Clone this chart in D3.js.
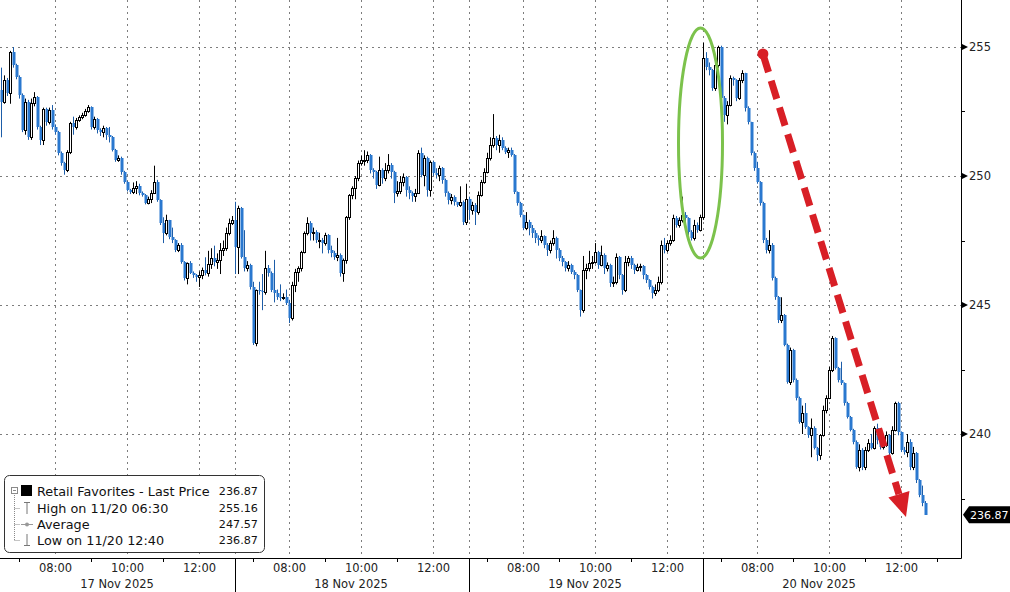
<!DOCTYPE html>
<html>
<head>
<meta charset="utf-8">
<script src="https://cdn.jsdelivr.net/npm/d3@7"></script>
<style>
  html, body { margin: 0; padding: 0; background: #fff; }
  svg { display: block; font-family: "DejaVu Sans", sans-serif; }
</style>
</head>
<body>
<svg id="chart"></svg>
<script>
// ---- data: 5-minute candles, 06:30-13:00 each day ----
const days = ["17 Nov 2025", "18 Nov 2025", "19 Nov 2025", "20 Nov 2025"];
const openFirst = 253.33;

const close17 = [252.87,253.72,253.22,254.81,254.30,253.84,253.14,251.78,252.87,251.51,
  252.83,253.06,251.90,251.40,252.60,252.09,252.56,251.90,251.71,250.89,
  250.50,250.23,250.93,252.05,251.90,252.17,252.29,252.36,252.52,252.67,
  251.90,252.21,251.78,251.71,251.86,251.59,251.51,251.01,250.62,250.70,
  250.16,249.77,249.46,249.38,249.53,249.61,249.34,249.26,248.95,249.11,
  249.34,249.77,249.07,248.18,247.79,248.29,247.64,247.52,247.13,247.33,
  246.67,246.05,246.63,246.24,246.16,246.09,246.16,246.36,246.24,246.59,
  246.82,246.67,246.74,247.13,247.21,247.79,248.18,248.29];
const high17 = [254.2,253.9,253.8,254.85,255.0,254.35,253.9,253.2,253.0,252.95,
  253.0,253.25,253.1,251.95,252.65,252.65,252.65,252.75,252.0,251.75,
  250.95,250.55,251.0,252.1,252.3,252.25,252.35,252.45,252.6,252.75,
  252.7,252.3,252.25,251.85,251.95,251.9,251.9,251.55,251.05,250.8,
  250.75,250.2,249.8,249.5,249.75,249.8,249.7,249.4,249.3,249.2,
  249.45,250.4,249.85,249.1,248.4,248.5,248.3,248.0,247.55,247.4,
  247.4,246.7,246.65,246.7,246.3,246.2,246.3,246.45,246.85,247.1,
  247.2,247.3,247.0,247.4,247.5,248.0,248.35,248.45];
const low17 = [251.5,252.8,253.1,252.8,254.2,253.75,253.0,251.7,251.6,251.4,
  251.4,252.7,251.8,251.2,251.2,251.95,252.0,251.8,251.6,250.8,
  250.4,250.05,250.15,250.85,251.6,251.8,252.1,252.2,252.3,252.45,
  251.8,251.8,251.65,251.55,251.5,251.4,251.3,250.95,250.55,250.55,
  250.05,249.7,249.4,249.3,249.3,249.3,249.25,249.2,248.9,248.9,
  248.95,249.3,249.0,248.1,247.4,247.7,247.55,247.4,247.05,247.05,
  246.6,245.95,245.8,246.2,246.05,245.9,245.7,246.0,246.15,246.1,
  246.4,246.5,246.4,246.2,246.9,247.1,247.7,248.1];

const close18 = [247.25,248.76,246.86,246.43,246.55,245.70,243.53,245.58,245.54,245.50,
  246.43,246.24,245.58,245.47,245.31,245.27,245.31,245.08,244.50,245.78,
  246.28,246.43,247.05,247.79,248.18,247.79,247.83,247.52,247.52,247.40,
  247.71,247.13,247.02,246.86,246.94,246.24,246.74,248.41,249.26,249.53,
  249.92,250.50,250.62,250.62,250.81,250.23,250.16,249.65,250.23,249.92,
  250.23,250.43,250.16,249.34,249.42,249.77,249.96,249.46,249.34,249.22,
  249.34,250.89,250.04,250.70,249.46,250.54,250.12,250.04,250.31,249.84,
  249.34,249.07,249.19,248.99,248.88,248.99,248.22,249.11];
const high18 = [249.0,248.85,248.8,247.9,246.7,246.6,245.9,245.6,245.9,246.2,
  247.1,246.55,246.3,246.75,245.6,245.8,245.45,245.6,245.2,245.9,
  246.4,246.5,247.1,247.85,248.4,248.25,248.0,247.9,247.8,247.6,
  247.8,247.75,247.3,247.1,247.6,247.0,246.8,248.45,249.3,249.6,
  250.0,250.6,250.8,251.0,250.95,250.85,250.3,250.2,250.75,250.3,
  250.5,250.85,250.5,250.2,249.8,250.0,250.1,250.0,249.6,249.4,
  249.5,251.0,251.1,250.8,250.75,250.6,250.6,250.3,250.4,250.35,
  249.9,249.4,249.3,249.25,249.0,249.6,249.05,249.7];
const low18 = [246.2,246.2,246.8,246.3,246.3,245.6,243.45,243.4,245.4,244.8,
  245.4,246.1,245.5,245.1,245.2,245.15,245.2,245.0,244.3,244.4,
  245.5,245.9,246.3,247.0,247.7,247.5,247.5,247.4,247.2,247.0,
  247.3,247.0,246.85,246.75,246.7,246.1,245.9,246.6,248.3,249.1,
  249.1,249.8,250.4,250.4,250.5,250.1,249.9,249.5,249.6,249.7,
  249.8,250.1,249.9,248.95,249.2,249.3,249.6,249.2,249.1,249.0,
  249.0,249.3,249.95,249.6,249.2,249.2,250.0,249.9,249.8,249.7,
  249.2,248.9,248.9,248.85,248.8,248.8,248.1,248.1];

const close19 = [248.68,248.88,248.60,249.26,249.77,250.16,250.70,251.20,251.47,251.20,
  251.40,251.09,250.93,251.01,250.81,249.38,248.95,248.49,247.98,248.22,
  247.98,247.79,247.60,247.52,247.67,247.33,247.13,247.40,247.60,247.13,
  246.82,246.67,246.43,246.55,246.28,246.16,245.58,244.81,246.36,246.43,
  246.63,246.67,247.05,246.55,246.94,246.43,246.55,245.85,245.89,246.86,
  246.16,245.58,246.67,246.82,246.55,246.36,246.47,246.51,246.16,245.97,
  245.70,245.47,245.58,245.89,247.33,247.13,247.40,247.52,248.37,248.10,
  248.29,248.49,248.37,247.83,247.60,248.10,247.91,248.41];
const high19 = [249.2,249.0,248.95,249.4,249.85,250.3,250.9,251.5,252.4,251.55,
  251.6,251.5,251.15,251.1,251.1,250.85,249.4,249.0,248.5,248.6,
  248.3,248.1,247.9,247.7,247.9,247.7,247.4,247.5,247.9,247.65,
  247.2,246.9,246.7,246.7,246.6,246.35,246.2,245.6,246.9,246.6,
  247.1,246.9,247.4,247.1,247.3,247.0,246.65,246.6,246.1,247.0,
  246.9,246.2,246.9,246.9,246.9,246.6,246.6,246.6,246.55,246.2,
  246.0,245.75,245.8,246.1,247.5,247.6,247.5,247.7,248.5,248.45,
  248.4,249.2,248.6,248.4,247.9,248.3,248.2,248.5];
const low19 = [248.3,248.5,248.1,248.5,249.2,249.7,250.1,250.6,251.1,251.0,
  250.9,251.0,250.85,250.7,250.75,249.3,248.85,248.4,247.9,247.9,
  247.7,247.6,247.4,247.3,247.4,247.2,246.9,247.0,247.3,246.8,
  246.7,246.5,246.3,246.3,246.2,246.0,245.5,244.55,244.7,246.0,
  246.3,246.4,246.6,246.4,246.5,246.2,246.3,245.7,245.7,245.8,
  246.0,245.4,245.5,246.5,246.4,246.2,246.3,246.3,246.0,245.85,
  245.6,245.25,245.35,245.5,245.8,247.0,247.05,247.3,247.45,248.0,
  248.0,248.2,248.2,247.7,247.5,247.5,247.8,247.85];

const close20 = [254.57,254.22,254.11,253.41,254.30,255.00,253.02,252.36,252.75,253.80,
  253.72,253.02,253.72,253.99,252.64,252.09,250.89,250.31,249.77,248.95,
  247.52,247.13,247.33,246.05,245.31,244.42,244.61,243.45,242.02,243.26,
  242.09,241.40,240.47,240.81,240.27,239.96,240.23,239.46,239.19,239.96,
  240.93,241.40,242.48,243.72,242.56,242.09,241.98,241.20,240.66,240.16,
  239.69,238.72,239.38,238.72,239.38,239.65,239.46,240.23,239.77,239.50,
  239.57,239.96,239.26,240.16,241.20,240.08,239.38,239.30,239.69,238.72,
  239.26,238.22,237.64,237.33,236.87];
const high20 = [255.16,254.8,254.4,254.15,254.5,255.05,255.05,253.1,252.9,253.9,
  253.85,253.75,253.8,254.1,254.0,252.7,252.1,250.95,250.55,249.8,
  249.0,247.6,247.9,247.4,246.1,245.35,245.3,244.65,243.5,243.35,
  243.3,242.15,241.45,241.1,241.2,240.3,240.6,240.3,239.5,240.0,
  241.1,241.5,242.6,243.8,243.75,242.6,242.8,242.0,241.25,240.7,
  240.2,239.75,239.6,239.45,239.5,239.8,240.0,240.3,240.4,239.85,
  239.8,240.1,240.0,240.3,241.25,241.25,240.1,239.5,240.0,239.8,
  239.5,239.3,238.25,238.0,237.4];
const low20 = [248.3,254.1,253.9,253.3,253.3,254.2,252.9,252.1,252.0,252.7,
  253.5,252.9,252.95,253.6,252.5,252.0,250.8,250.2,249.7,248.85,
  247.4,247.0,247.0,245.95,245.2,244.3,244.3,243.4,241.95,241.9,
  242.0,241.3,240.4,240.0,240.2,239.85,239.1,239.4,238.95,239.0,
  239.9,240.8,241.35,242.4,242.5,242.0,241.9,241.1,240.6,240.1,
  239.6,238.65,238.55,238.6,238.6,239.3,239.4,239.4,239.6,239.4,
  239.4,239.5,239.0,239.2,240.1,239.95,239.3,239.2,239.1,238.6,
  238.6,238.1,237.55,237.2,236.87];

const timeLabels = ["08:00", "10:00", "12:00"];
const timeLabelHours = [8, 10, 12];
const minorHours = [7, 9, 11];
const priceTicks = [240, 245, 250, 255];
const minorPriceTicks = [237.5, 242.5, 247.5, 252.5];
const lastPrice = 236.87;
const legendNames = ["Retail Favorites - Last Price", "High on 11/20 06:30", "Average", "Low on 11/20 12:40"];
const legendValues = ["236.87", "255.16", "247.57", "236.87"];

// ---- layout ----
const W = 1010, H = 592;
const plotRight = 961, plotBottom = 558;
const BARS_PER_DAY = 78;
const UP_FILL = "#ffffff", DOWN_FILL = "#2a78cf";

const svg = d3.select("#chart").attr("width", W).attr("height", H);

const x = d3.scaleLinear().domain([0, 320]).range([1.5, 961.5]);
const y = d3.scaleLinear().domain([240, 255]).range([434, 47]);
const hourIdx = (d, h) => d * BARS_PER_DAY + (h - 6.5) * 12;

const closes = [close17, close18, close19, close20];
const highs = [high17, high18, high19, high20];
const lows = [low17, low18, low19, low20];

const bars = [];
let prev = openFirst;
closes.forEach((arr, d) => {
  arr.forEach((c, i) => {
    const o = prev;
    bars.push({
      idx: d * BARS_PER_DAY + i,
      o: o, c: c,
      h: Math.max(highs[d][i], o, c),
      l: Math.min(lows[d][i], o, c)
    });
    prev = c;
  });
});

// ---- grid ----
const grid = svg.append("g").attr("stroke", "#7d7d7d").attr("stroke-dasharray", "2,4").attr("stroke-width", 1);
grid.selectAll("line.h").data(priceTicks).enter().append("line")
  .attr("x1", 0).attr("x2", plotRight)
  .attr("y1", d => Math.round(y(d)) + 0.5).attr("y2", d => Math.round(y(d)) + 0.5);

const vGrid = [];
days.forEach((_, d) => {
  timeLabelHours.forEach(h => vGrid.push(x(hourIdx(d, h))));
  if (d > 0) vGrid.push(x(d * BARS_PER_DAY));
});
grid.selectAll("line.v").data(vGrid).enter().append("line")
  .attr("x1", d => Math.floor(d) + 0.5).attr("x2", d => Math.floor(d) + 0.5)
  .attr("y1", 0).attr("y2", plotBottom);

// ---- candles ----
const candle = svg.append("g").selectAll("g").data(bars).enter().append("g");
candle.append("line")
  .attr("x1", d => Math.floor(x(d.idx)) + 0.5)
  .attr("x2", d => Math.floor(x(d.idx)) + 0.5)
  .attr("y1", d => y(d.h)).attr("y2", d => y(d.l))
  .attr("stroke", d => d.c >= d.o ? "#000" : "#1d5da8")
  .attr("stroke-width", 1);
candle.filter(d => d.c < d.o).append("rect")
  .attr("x", d => Math.floor(x(d.idx)) - 0.5)
  .attr("width", 3)
  .attr("y", d => Math.round(y(d.o)))
  .attr("height", d => Math.max(1, Math.round(y(d.c) - y(d.o))))
  .attr("fill", DOWN_FILL);
candle.filter(d => d.c >= d.o).append("rect")
  .attr("x", d => Math.floor(x(d.idx)) - 0.5)
  .attr("width", 2)
  .attr("y", d => Math.round(y(d.c)) + 0.5)
  .attr("height", d => Math.max(1, Math.round(y(d.o) - y(d.c))))
  .attr("fill", UP_FILL)
  .attr("stroke", "#000")
  .attr("stroke-width", 1);

// ---- annotations ----
svg.append("ellipse")
  .attr("cx", x(233))
  .attr("cy", (y(255.74) + y(246.82)) / 2)
  .attr("rx", 22)
  .attr("ry", (y(246.82) - y(255.74)) / 2)
  .attr("fill", "none")
  .attr("stroke", "#7cc24c")
  .attr("stroke-width", 3);

const p0 = [x(3 * BARS_PER_DAY + 19.8), y(254.73)];
const p1 = [x(3 * BARS_PER_DAY + 67.5), y(236.78)];
const len = Math.hypot(p1[0] - p0[0], p1[1] - p0[1]);
const ux = (p1[0] - p0[0]) / len, uy = (p1[1] - p0[1]) / len;
const headLen = 24, headHalf = 11;
const base = [p1[0] - ux * headLen, p1[1] - uy * headLen];
const RED = "#d81f26";
svg.append("line")
  .attr("x1", p0[0]).attr("y1", p0[1])
  .attr("x2", base[0]).attr("y2", base[1])
  .attr("stroke", RED).attr("stroke-width", 7)
  .attr("stroke-dasharray", "19,9");
svg.append("path")
  .attr("d", `M${p1[0]},${p1[1]}L${base[0] - uy * headHalf},${base[1] + ux * headHalf}L${base[0] + uy * headHalf},${base[1] - ux * headHalf}Z`)
  .attr("fill", RED);
svg.append("circle").attr("cx", p0[0]).attr("cy", p0[1]).attr("r", 5.5).attr("fill", RED);

// ---- axes ----
svg.append("line").attr("x1", plotRight + 0.5).attr("x2", plotRight + 0.5)
  .attr("y1", 0).attr("y2", plotBottom + 0.5).attr("stroke", "#000");
svg.append("line").attr("x1", 0).attr("x2", plotRight + 0.5)
  .attr("y1", plotBottom + 0.5).attr("y2", plotBottom + 0.5).attr("stroke", "#000");

const yAxis = svg.append("g");
yAxis.selectAll("path.tri").data(priceTicks).enter().append("path")
  .attr("d", d => { const yy = y(d); return `M${plotRight},${yy - 3.5}L${plotRight + 7},${yy}L${plotRight},${yy + 3.5}Z`; })
  .attr("fill", "#000");
yAxis.selectAll("text").data(priceTicks).enter().append("text")
  .attr("x", plotRight + 8).attr("y", d => y(d)).attr("dy", "0.36em")
  .attr("font-size", "11.5px").attr("fill", "#222")
  .text(d => d);
yAxis.selectAll("line.minor").data(minorPriceTicks).enter().append("line")
  .attr("x1", plotRight).attr("x2", plotRight + 4)
  .attr("y1", d => Math.round(y(d)) + 0.5).attr("y2", d => Math.round(y(d)) + 0.5)
  .attr("stroke", "#000");

const ly = y(lastPrice);
svg.append("path")
  .attr("d", `M${plotRight + 2},${ly}L${plotRight + 8},${ly - 8.5}L${W},${ly - 8.5}L${W},${ly + 8.5}L${plotRight + 8},${ly + 8.5}Z`)
  .attr("fill", "#000");
svg.append("text")
  .attr("x", plotRight + 9).attr("y", ly).attr("dy", "0.36em")
  .attr("font-size", "11px").attr("fill", "#fff")
  .text(lastPrice.toFixed(2));

const xAxis = svg.append("g");
days.forEach((day, d) => {
  timeLabels.forEach((t, k) => {
    xAxis.append("text")
      .attr("x", x(hourIdx(d, timeLabelHours[k]))).attr("y", 572)
      .attr("text-anchor", "middle").attr("font-size", "11.5px").attr("fill", "#222")
      .text(t);
  });
  const hrs = d === days.length - 1 ? minorHours.concat([13]) : minorHours;
  hrs.forEach(h => {
    const xx = Math.floor(x(hourIdx(d, h))) + 0.5;
    xAxis.append("line").attr("x1", xx).attr("x2", xx)
      .attr("y1", plotBottom).attr("y2", plotBottom + 4).attr("stroke", "#000");
  });
  xAxis.append("text")
    .attr("x", (x(d * BARS_PER_DAY) + x((d + 1) * BARS_PER_DAY)) / 2 - 1.5).attr("y", 588)
    .attr("text-anchor", "middle").attr("font-size", "11.5px").attr("fill", "#222")
    .text(day);
  if (d > 0) {
    const xx = Math.floor(x(d * BARS_PER_DAY)) + 0.5;
    xAxis.append("line").attr("x1", xx).attr("x2", xx)
      .attr("y1", plotBottom).attr("y2", H).attr("stroke", "#000");
  }
});

// ---- legend ----
const lg = svg.append("g");
lg.append("rect").attr("x", 4.5).attr("y", 475.5).attr("width", 260).attr("height", 77)
  .attr("rx", 5).attr("fill", "#fff").attr("stroke", "#333");
const rowY = [491, 508, 524, 540];
const treeCol = "#8a8a8a";
lg.append("line").attr("x1", 14.5).attr("x2", 14.5).attr("y1", 495).attr("y2", rowY[3])
  .attr("stroke", treeCol).attr("stroke-dasharray", "1,1");
rowY.slice(1).forEach(ry => {
  lg.append("line").attr("x1", 14.5).attr("x2", 20).attr("y1", ry + 0.5).attr("y2", ry + 0.5)
    .attr("stroke", treeCol).attr("stroke-dasharray", "1,1");
});
lg.append("rect").attr("x", 11.5).attr("y", 487.5).attr("width", 6).attr("height", 6)
  .attr("fill", "#fff").attr("stroke", treeCol);
lg.append("line").attr("x1", 13).attr("x2", 16).attr("y1", 490.5).attr("y2", 490.5).attr("stroke", treeCol);
lg.append("rect").attr("x", 21).attr("y", 485).attr("width", 11).attr("height", 11).attr("fill", "#000");
// high icon
lg.append("path").attr("d", `M24,${rowY[1] - 5.5}H30M27,${rowY[1] - 5.5}V${rowY[1] + 6}`)
  .attr("stroke", "#777").attr("fill", "none");
// average icon
lg.append("line").attr("x1", 21).attr("x2", 33).attr("y1", rowY[2] + 0.5).attr("y2", rowY[2] + 0.5).attr("stroke", "#999");
lg.append("circle").attr("cx", 27).attr("cy", rowY[2] + 0.5).attr("r", 2).attr("fill", "#999");
// low icon
lg.append("path").attr("d", `M27,${rowY[3] - 6}V${rowY[3] + 5.5}M24,${rowY[3] + 5.5}H30`)
  .attr("stroke", "#777").attr("fill", "none");

legendNames.forEach((name, i) => {
  lg.append("text").attr("x", 37).attr("y", rowY[i]).attr("dy", "0.36em")
    .attr("font-size", "12.8px").attr("fill", "#111").text(name);
  lg.append("text").attr("x", 258).attr("y", rowY[i]).attr("dy", "0.36em")
    .attr("text-anchor", "end").attr("font-size", "11.2px").attr("fill", "#111").text(legendValues[i]);
});
</script>
</body>
</html>
